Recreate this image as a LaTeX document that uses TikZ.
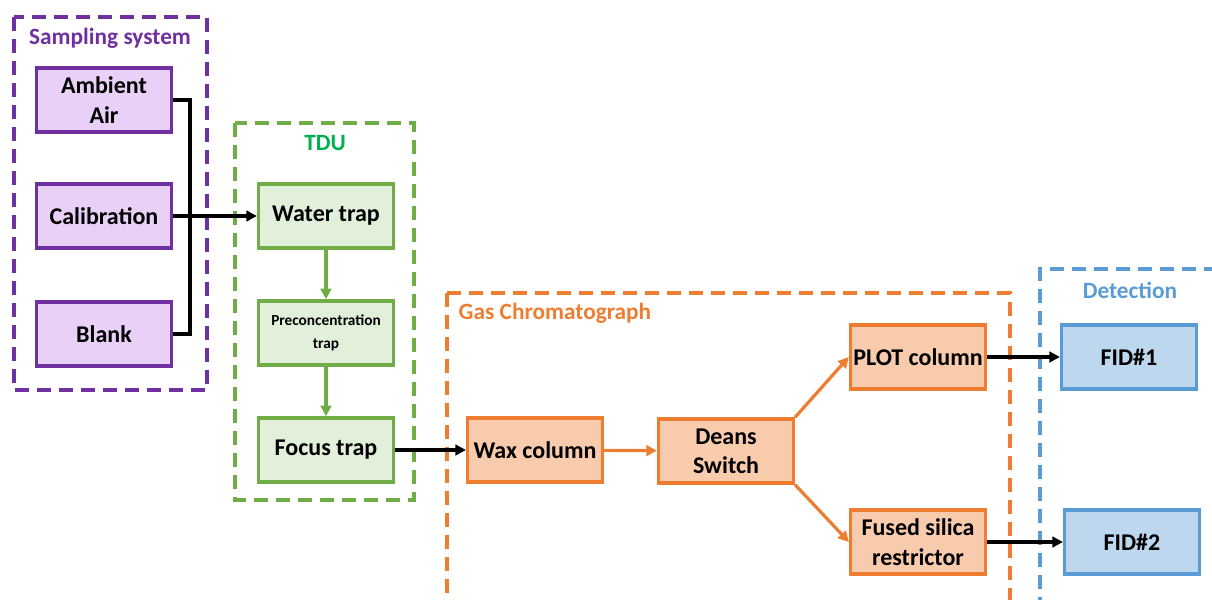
\documentclass[tikz,border=0pt]{standalone}
\usepackage{fontspec}
\setmainfont{Carlito}
\usetikzlibrary{arrows.meta}
\definecolor{sampline}{HTML}{7030A0}
\definecolor{sampfill}{HTML}{E8D0F7}
\definecolor{tduline}{HTML}{70AD47}
\definecolor{tdufill}{HTML}{E2EFDA}
\definecolor{tdutitle}{HTML}{00B050}
\definecolor{gcline}{HTML}{ED7D31}
\definecolor{gcfill}{HTML}{F8CBAD}
\definecolor{detline}{HTML}{5B9BD5}
\definecolor{detfill}{HTML}{BDD7EE}
\tikzset{
  box/.style={draw, line width=2.6pt, minimum width=101pt, minimum height=48pt,
    align=center, inner sep=2pt, font=\bfseries\fontsize{18}{22}\selectfont},
  sampbox/.style={box, draw=sampline, fill=sampfill},
  tdubox/.style={box, draw=tduline, fill=tdufill},
  gcbox/.style={box, draw=gcline, fill=gcfill},
  detbox/.style={box, draw=detline, fill=detfill},
  group/.style={line width=2.6pt, dash pattern=on 10.5pt off 6pt},
  grouptitle/.style={font=\bfseries\fontsize{17.5}{20}\selectfont},
  flow/.style={line width=2.4pt, -{Triangle[length=8pt,width=8pt]}}
}
\begin{document}
\begin{tikzpicture}[x=0.75pt, y=-0.75pt]
\useasboundingbox (0,0) rectangle (1212,599);
% dashed groups
\draw[group, sampline] (14,17) rectangle (207,390);
\draw[group, tduline] (235,123) rectangle (414,500);
\draw[group, gcline] (447,293) -- (1010,293) -- (1010,620);
\draw[group, gcline] (447,293) -- (447,620);
\draw[group, detline] (1240,269) -- (1040,269) -- (1040,620);
\node[grouptitle, text=sampline] (samptitle) at (110,38) {Sampling system};
\node[grouptitle, text=tdutitle] (tdutitle) at (325,143) {TDU};
\node[grouptitle, text=gcline, anchor=west] (gctitle) at (454,313) {Gas Chromatograph};
\node[grouptitle, text=detline] (dettitle) at (1130,290) {Detection};
% boxes
\node[sampbox] (ambient) at (104,100) {Ambient\\Air};
\node[sampbox] (calib) at (104,216) {Calibration};
\node[sampbox] (blank) at (104,334) {Blank};
\node[tdubox] (water) at (326,216) {Water trap};
\node[tdubox, font=\bfseries\fontsize{11.5}{17}\selectfont] (precon) at (326,333) {Preconcentration\\trap};
\node[tdubox] (focus) at (326,450) {Focus trap};
\node[gcbox] (wax) at (535,450) {Wax column};
\node[gcbox] (deans) at (726,451) {Deans\\Switch};
\node[gcbox] (plot) at (918,357) {PLOT column};
\node[gcbox] (fused) at (918,542) {Fused silica\\restrictor};
\node[detbox] (fid1) at (1129,357) {FID\#1};
\node[detbox] (fid2) at (1132,542) {FID\#2};
% connectors
\coordinate (merge) at (190,216);
\draw[line width=2.4pt] (ambient.east) -| (merge) |- (blank.east);
\draw[flow] (calib.east) -- (water.west);
\draw[flow, tduline] (water) -- (precon);
\draw[flow, tduline] (precon) -- (focus);
\draw[flow] (focus) -- (wax);
\draw[flow, gcline] (wax) -- (deans);
\draw[flow, gcline] (deans.north east) -- (plot.west);
\draw[flow, gcline] (deans.south east) -- (fused.west);
\draw[flow] (plot) -- (fid1);
\draw[flow] (fused) -- (fid2);
\end{tikzpicture}
\end{document}
